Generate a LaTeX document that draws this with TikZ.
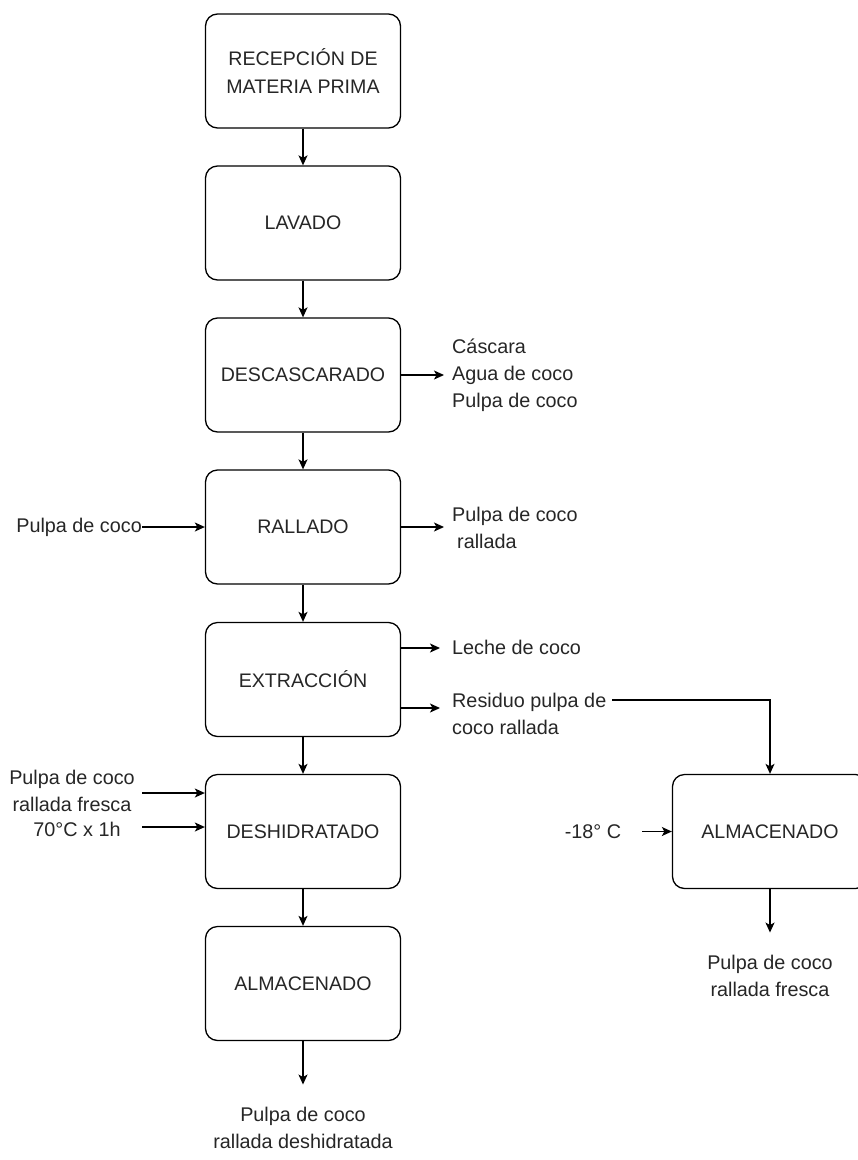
\documentclass[tikz,border=0pt]{standalone}
\usepackage{fontspec}
\setmainfont{Liberation Sans}
\usetikzlibrary{arrows.meta}
\definecolor{texto}{HTML}{262626}

\begin{document}
\begin{tikzpicture}[x=1pt,y=1pt,
    etapa/.style={draw, line width=1.3pt, rounded corners=12pt,
      minimum width=195pt, minimum height=114pt, align=center,
      text=texto, font=\fontsize{19.6}{28}\selectfont},
    nota/.style={inner sep=0pt, text=texto, font=\fontsize{19.8}{27}\selectfont},
    flujo/.style={line width=1.3pt, -{Stealth[length=10pt,width=9pt,inset=2.5pt]}}]
  \useasboundingbox (0,0) rectangle (858,-1160);
  \clip (0,0) rectangle (858,-1160);
  % etapas del proceso
  \node[etapa] (recep) at (303,-71) {RECEPCIÓN DE\\MATERIA PRIMA};
  \node[etapa] (lavado) at (303,-223) {LAVADO};
  \node[etapa] (descas) at (303,-375) {DESCASCARADO};
  \node[etapa] (rallado) at (303,-527) {RALLADO};
  \node[etapa] (extrac) at (303,-679.5) {EXTRACCIÓN};
  \node[etapa] (deshid) at (303,-831.5) {DESHIDRATADO};
  \node[etapa] (almac) at (303,-983.5) {ALMACENADO};
  \node[etapa] (almac2) at (770,-831.5) {ALMACENADO};
  \draw[flujo] (recep) -- (lavado);
  \draw[flujo] (lavado) -- (descas);
  \draw[flujo] (descas) -- (rallado);
  \draw[flujo] (rallado) -- (extrac);
  \draw[flujo] (extrac) -- (deshid);
  \draw[flujo] (deshid) -- (almac);
  % salidas
  \node[nota, anchor=west, align=left] (descsal) at (452,-375) {Cáscara\\Agua de coco\\Pulpa de coco};
  \draw[flujo, shorten >=8pt] (descas.east) -- (descas.east -| descsal.west);
  \node[nota, anchor=east] (ralent) at (142,-527) {Pulpa de coco};
  \draw[flujo] (ralent.east) -- (ralent.east -| rallado.west);
  \node[nota, anchor=west, align=left] (ralsal) at (452,-527.5) {Pulpa de coco\\\hspace{5pt}rallada};
  \draw[flujo, shorten >=8pt] (rallado.east) -- (rallado.east -| ralsal.west);
  \node[nota, anchor=west] (leche) at (452,-647) {Leche de coco};
  \draw[flujo, shorten >=12pt] ([yshift=31.5pt]extrac.east) -- ([yshift=31.5pt]extrac.east -| leche.west);
  \node[nota, anchor=west, align=left] (resid) at (452,-713.5) {Residuo pulpa de\\coco rallada};
  \draw[flujo, shorten >=12pt] ([yshift=-28.5pt]extrac.east) -- ([yshift=-28.5pt]extrac.east -| resid.west);
  \coordinate (codo) at (612,-700);
  \draw[flujo] (codo) -| (almac2.north);
  % entradas al deshidratado
  \node[nota, align=center] (fresca) at (72,-791) {Pulpa de coco\\rallada fresca};
  \coordinate (ent1) at (142,-793);
  \draw[flujo] (ent1) -- (ent1 -| deshid.west);
  \node[nota] (temp) at (77,-829) {70°C x 1h};
  \coordinate (ent2) at (142,-827);
  \draw[flujo] (ent2) -- (ent2 -| deshid.west);
  % almacenado congelado
  \node[nota] (frio) at (593,-831.5) {-18° C};
  \coordinate (ent3) at (642,-831.5);
  \draw[flujo] (ent3) -- (almac2);
  % productos finales
  \node[nota, align=center] (fin1) at (303,-1127.5) {Pulpa de coco\\rallada deshidratada};
  \draw[flujo] (almac) -- ([yshift=22pt]fin1.north);
  \node[nota, align=center] (fin2) at (770,-975.5) {Pulpa de coco\\rallada fresca};
  \draw[flujo] (almac2) -- ([yshift=22pt]fin2.north);
\end{tikzpicture}
\end{document}
